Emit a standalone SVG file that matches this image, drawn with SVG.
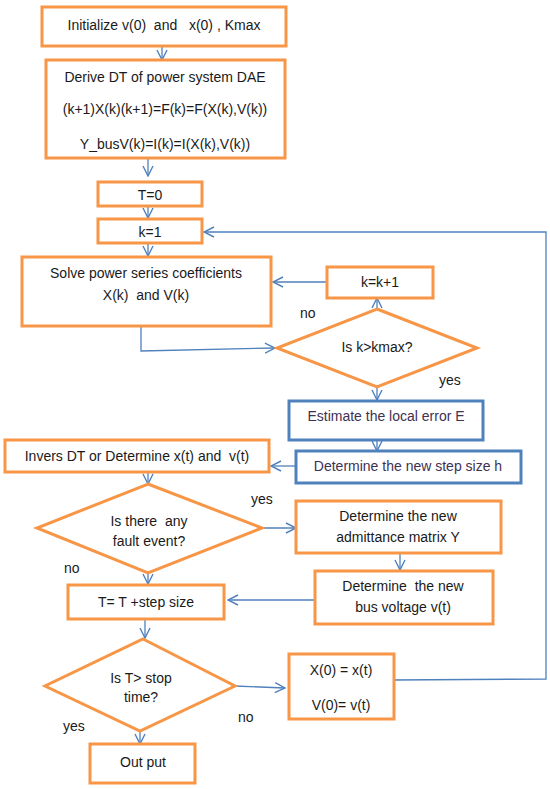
<svg xmlns="http://www.w3.org/2000/svg" width="550" height="789" viewBox="0 0 550 789">
<defs>
<marker id="ar" viewBox="0 0 12 12" refX="11" refY="6" markerWidth="12" markerHeight="12" markerUnits="userSpaceOnUse" orient="auto">
<path d="M1,1 L11,6 L1,11" fill="none" stroke="#4f81bd" stroke-width="1.4"/>
</marker>
</defs>
<style>
.o{fill:#fff;stroke:#f79646;stroke-width:3}
.b{fill:#fff;stroke:#4f81bd;stroke-width:3}
.t{font-family:"Liberation Sans",Arial,sans-serif;font-size:14px;fill:#1a1a1a;text-anchor:middle;white-space:pre}
.tb{fill:#403152}
.l{font-family:"Liberation Sans",Arial,sans-serif;font-size:14px;fill:#1a1a1a;white-space:pre}
.c{fill:none;stroke:#4f81bd;stroke-width:1.3}
.a{marker-end:url(#ar)}
</style>
<rect width="550" height="789" fill="#fff"/>
<g id="connectors">
<path class="c a" d="M162,46 L162,60"/>
<path class="c a" d="M148,159 L148,176"/>
<path class="c a" d="M148,207 L148,218"/>
<path class="c a" d="M148,244 L148,256"/>
<path class="c a" d="M141,326 L141,351 L275,348"/>
<path class="c a" d="M377,309 L377,298"/>
<path class="c a" d="M327,282 L273,282"/>
<path class="c a" d="M391,680 L546,679 L546,232 L204,232"/>
<path class="c a" d="M377,387 L377,400"/>
<path class="c a" d="M377,441 L377,451"/>
<path class="c a" d="M296,466 L271,466"/>
<path class="c a" d="M148,473 L148,484"/>
<path class="c a" d="M262,528 L296,528"/>
<path class="c a" d="M148,573 L148,584"/>
<path class="c a" d="M400,554 L400,570"/>
<path class="c a" d="M315,600 L228,600"/>
<path class="c a" d="M145,620 L145,638"/>
<path class="c a" d="M235,686 L285,688"/>
<path class="c a" d="M140,731 L140,744"/>
</g>
<g id="init"><rect class="o" x="42" y="7" width="244" height="39"/><text class="t" x="164" y="30">Initialize v(0)  and   x(0) , Kmax</text></g>
<g id="derive"><rect class="o" x="46" y="60" width="239" height="98"/>
<text class="t" x="165" y="82">Derive DT of power system DAE</text>
<text class="t" x="165" y="114">(k+1)X(k)(k+1)=F(k)=F(X(k),V(k))</text>
<text class="t" x="165" y="149">Y_busV(k)=I(k)=I(X(k),V(k))</text></g>
<g id="t0"><rect class="o" x="98" y="182" width="104" height="24"/><text class="t" x="150" y="200">T=0</text></g>
<g id="k1"><rect class="o" x="98" y="219" width="104" height="24"/><text class="t" x="150" y="237">k=1</text></g>
<g id="solve"><rect class="o" x="22" y="257" width="249" height="69"/>
<text class="t" x="146" y="278">Solve power series coefficients</text>
<text class="t" x="146" y="300">X(k)  and V(k)</text></g>
<g id="kinc"><rect class="o" x="327" y="267" width="106" height="31"/><text class="t" x="380" y="287">k=k+1</text></g>
<g id="dk"><polygon class="o" points="377,309 477,348 377,387 277,348"/><text class="t" x="377" y="352">Is k&gt;kmax?</text></g>
<text class="l" x="300" y="318">no</text>
<text class="l" x="439" y="385">yes</text>
<g id="est"><rect class="b" x="289" y="401" width="194" height="39"/><text class="t tb" x="386" y="421">Estimate the local error E</text></g>
<g id="step"><rect class="b" x="296" y="451" width="225" height="32"/><text class="t tb" x="408" y="471">Determine the new step size h</text></g>
<g id="inv"><rect class="o" x="5" y="440" width="264" height="32"/><text class="t" x="137" y="461">Invers DT or Determine x(t) and  v(t)</text></g>
<g id="df"><polygon class="o" points="148,484 262,528 148,573 37,528"/>
<text class="t" x="149" y="526">Is there  any</text>
<text class="t" x="149" y="546">fault event?</text></g>
<text class="l" x="251" y="504">yes</text>
<text class="l" x="64" y="573">no</text>
<g id="adm"><rect class="o" x="296" y="501" width="205" height="52"/>
<text class="t" x="398" y="521">Determine the new</text>
<text class="t" x="398" y="542">admittance matrix Y</text></g>
<g id="bus"><rect class="o" x="315" y="571" width="178" height="53"/>
<text class="t" x="403" y="591">Determine  the new</text>
<text class="t" x="403" y="612">bus voltage v(t)</text></g>
<g id="tinc"><rect class="o" x="68" y="585" width="156" height="34"/><text class="t" x="146" y="607">T= T +step size</text></g>
<g id="ds"><polygon class="o" points="143,639 235,686 140,731 45,686"/>
<text class="t" x="141" y="683">Is T&gt; stop</text>
<text class="t" x="141" y="702">time?</text></g>
<text class="l" x="63" y="731">yes</text>
<text class="l" x="238" y="722">no</text>
<g id="x0"><rect class="o" x="289" y="654" width="105" height="65"/>
<text class="t" x="341" y="675">X(0) = x(t)</text>
<text class="t" x="341" y="710">V(0)= v(t)</text></g>
<g id="out"><rect class="o" x="90" y="744" width="105" height="39"/><text class="t" x="143" y="767">Out put</text></g>
</svg>
